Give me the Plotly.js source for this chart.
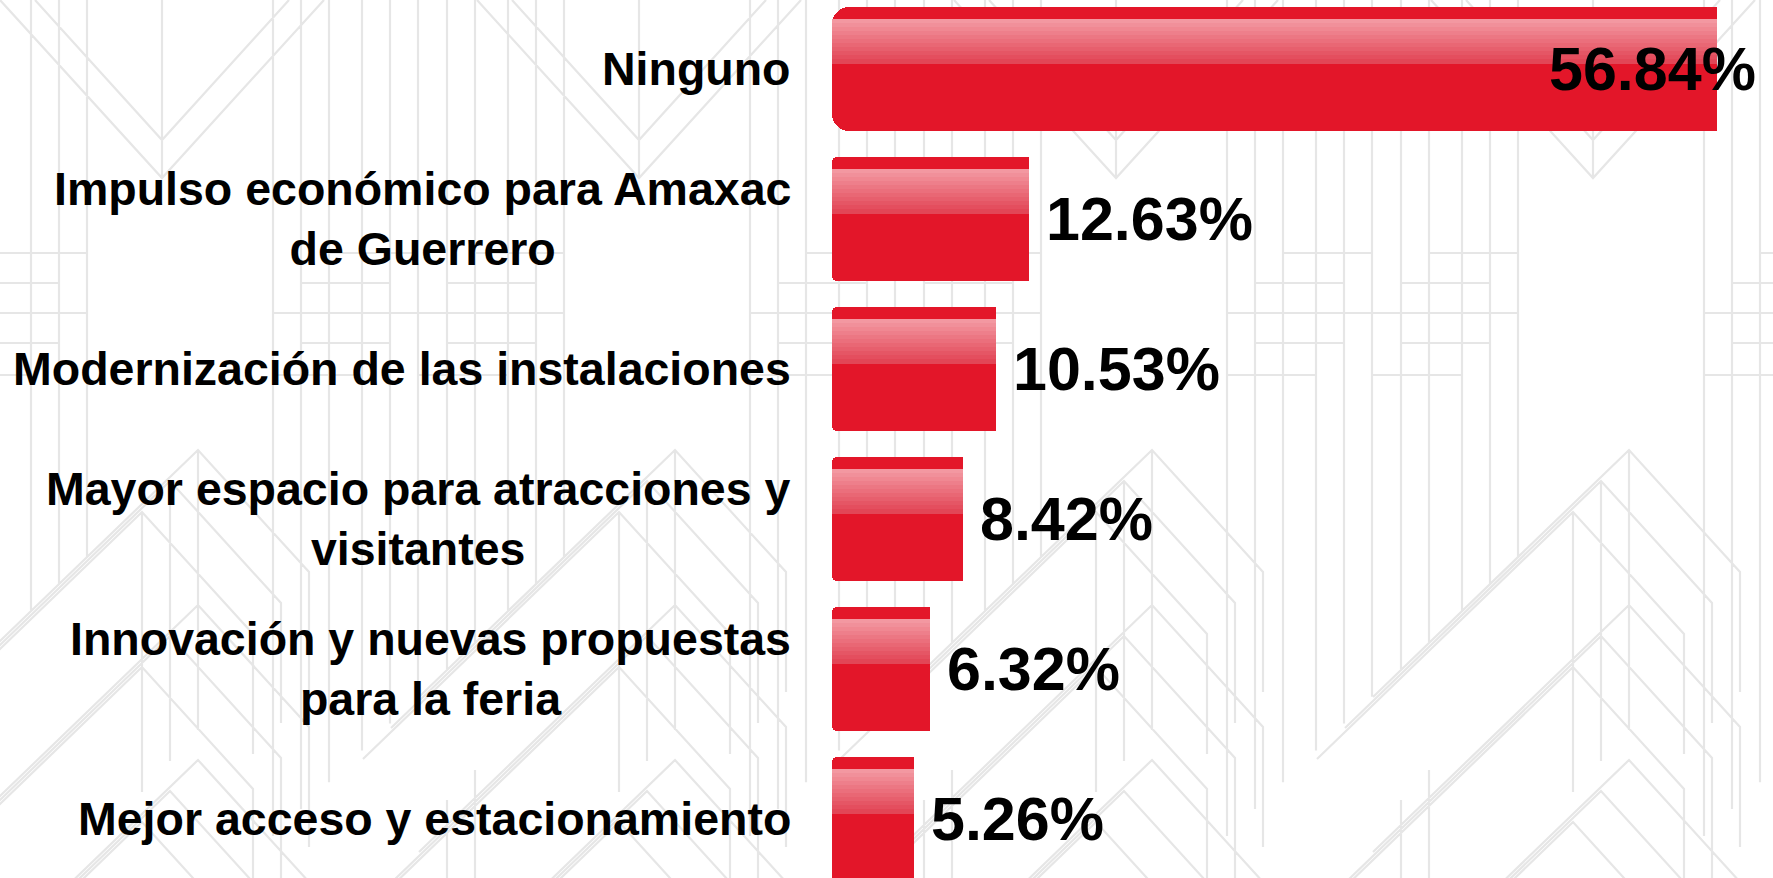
<!DOCTYPE html>
<html>
<head>
<meta charset="utf-8">
<script src="https://cdn.plot.ly/plotly-3.0.1.min.js"></script>
<style>
  html, body { margin: 0; padding: 0; background: #ffffff; }
  #chart { width: 1773px; height: 878px; }
</style>
</head>
<body>
<div id="chart"></div>
<script>
// ---------- data ----------
const categories = [
  'Ninguno',
  'Impulso económico para Amaxac de Guerrero',
  'Modernización de las instalaciones',
  'Mayor espacio para atracciones y visitantes',
  'Innovación y nuevas propuestas para la feria',
  'Mejor acceso y estacionamiento'
];
const tickLabels = [
  'Ninguno',
  'Impulso económico para Amaxac<br>de Guerrero',
  'Modernización de las instalaciones',
  'Mayor espacio para atracciones y<br>visitantes',
  'Innovación y nuevas propuestas<br>para la feria',
  'Mejor acceso y estacionamiento'
];
const values = [56.84, 12.63, 10.53, 8.42, 6.32, 5.26];
const valueLabels = ['56.84%', '12.63%', '10.53%', '8.42%', '6.32%', '5.26%'];

// ---------- layout geometry (pixels) ----------
const W = 1773, H = 878;
const plotLeft = 832;
const plotW = W - plotLeft;
const pxPerUnitX = 15.57;          // pixels per percent
const xMax = plotW / pxPerUnitX;
const pitch = 150;                 // pixels per category
const yTop = -69 / pitch;          // value at top edge
const yBottom = yTop + H / pitch;  // value at bottom edge
const barW = 124 / pitch;

const RED = '#E31629';
const FONT = '"Liberation Sans", Arial, Helvetica, sans-serif';

// ---------- traces ----------
const traces = [];
// rounded start (left) caps: style only
const capPx = [17, 5];
function capBar(idxs, rPx) {
  const r = rPx / pxPerUnitX;
  return {
    type: 'bar', orientation: 'h',
    y: idxs.map(i => categories[i]),
    x: idxs.map(() => -2 * r),
    base: idxs.map(() => 2 * r),
    width: barW,
    marker: { color: RED, cornerradius: rPx, line: { width: 0 } },
    hoverinfo: 'skip', showlegend: false
  };
}
traces.push(capBar([0], capPx[0]));
traces.push(capBar([1, 2, 3, 4, 5], capPx[1]));
// square main body of each bar
const startPx = categories.map((c, i) => (i === 0 ? capPx[0] : capPx[1]));
traces.push({
  type: 'bar', orientation: 'h',
  y: categories,
  base: startPx.map(p => p / pxPerUnitX),
  x: values.map((v, i) => v - startPx[i] / pxPerUnitX),
  width: barW,
  marker: { color: RED, line: { width: 0 } },
  hoverinfo: 'skip', showlegend: false
});

// glossy highlight band (style only, same data values)
const glossStart = 12, glossStep = 4, glossN = 11;
const c0 = [243, 152, 161], c1 = [226, 70, 86];
for (let i = 0; i < glossN; i++) {
  const t = i / (glossN - 1);
  const col = 'rgb(' + c0.map((c, k) => Math.round(c + (c1[k] - c) * t)).join(',') + ')';
  traces.push({
    type: 'bar', orientation: 'h',
    y: categories, x: values,
    width: (glossStep + 0.6) / pitch,
    offset: -barW / 2 + (glossStart + glossStep * i) / pitch,
    marker: { color: col, line: { width: 0 } },
    hoverinfo: 'skip', showlegend: false
  });
}

// ---------- annotations ----------
const annotations = [];
categories.forEach((c, i) => {
  annotations.push({
    xref: 'paper', yref: 'y',
    x: -39 / plotW, y: c,
    xanchor: 'right', yanchor: 'middle', align: 'center',
    text: tickLabels[i], showarrow: false,
    font: { family: FONT, size: 46.5, color: '#000000', weight: 700 }
  });
  const valPx = values[i] * pxPerUnitX;
  const overflow = valPx + 18 + 215 > plotW;
  annotations.push({
    xref: 'x', yref: 'y',
    x: values[i], y: c,
    xanchor: overflow ? 'right' : 'left',
    xshift: overflow ? 41 : 15,
    yanchor: 'middle', align: 'left',
    text: valueLabels[i], showarrow: false,
    font: { family: FONT, size: 61, color: '#000000', weight: 700 }
  });
});

// ---------- decorative background lattice ----------
function P(x, y) { return ((x - plotLeft) / plotW).toFixed(5) + ',' + (1 - y / H).toFixed(5); }
let bg = '';
function seg(pts) { bg += 'M' + pts.map(p => P(p[0], p[1])).join('L'); }
for (let k = -2; k <= 4; k++) {
  const cx = 198 + 477 * k;
  // nested chevron stacks
  for (let s = 0; s < 3; s++) {
    for (let j = 0; j < 3; j++) {
      const ax = cx - 28 * j, ay = 450 + 155 * s + 31 * j;
      seg([[ax - 256, ay + 247], [ax, ay], [ax + 111, ay + 122], [ax + 111, ay + 242]]);
    }
  }
  for (let j = 0; j < 3; j++) seg([[cx - 28 * j, 450 + 31 * j], [cx - 28 * j, 730 + 31 * j]]);
  // vertical bundle between peaks
  const rel = [75, 103, 131, 164, 192, 220, 249, 277, 310, 338, 366];
  rel.forEach(r => {
    const x = cx + r;
    const yEnd = 450 + 0.96 * (cx + 477 - x);
    seg([[x, 0], [x, yEnd]]);
  });
  seg([[cx + 131, 253], [cx + 220, 253]]);
  seg([[cx + 278, 253], [cx + 366, 253]]);
  seg([[cx + 103, 283], [cx + 192, 283]]);
  seg([[cx + 249, 283], [cx + 338, 283]]);
  seg([[cx + 75, 313], [cx + 366, 313]]);
  seg([[cx + 103, 343], [cx + 192, 343]]);
  seg([[cx + 249, 343], [cx + 338, 343]]);
  seg([[cx + 75, 375], [cx + 164, 375]]);
  seg([[cx + 221, 375], [cx + 310, 375]]);
  // upper V's
  const vx = cx - 36;
  seg([[vx - 162, 0], [vx, 178], [vx + 162, 0]]);
  seg([[vx - 127, 0], [vx, 140], [vx + 127, 0]]);
  seg([[vx, 0], [vx, 178]]);
  // lower verticals below left legs
  seg([[cx - 228, 800], [cx - 228, H]]);
  seg([[cx - 200, 770], [cx - 200, H]]);
}
const shapes = [{
  type: 'path', xref: 'paper', yref: 'paper', layer: 'below',
  path: bg, line: { color: '#e6e6e6', width: 2.2 }
}];

const layout = {
  width: W, height: H,
  margin: { l: plotLeft, r: 0, t: 0, b: 0, pad: 0 },
  paper_bgcolor: '#ffffff', plot_bgcolor: 'rgba(0,0,0,0)',
  barmode: 'overlay', bargap: 0,
  showlegend: false,
  xaxis: { range: [0, xMax], visible: false, fixedrange: true },
  yaxis: {
    type: 'category', categoryorder: 'array', categoryarray: categories,
    range: [yBottom, yTop], visible: false, fixedrange: true
  },
  annotations: annotations,
  shapes: shapes,
  font: { family: FONT }
};

Plotly.newPlot('chart', traces, layout, { displayModeBar: false, staticPlot: true });
</script>
</body>
</html>
